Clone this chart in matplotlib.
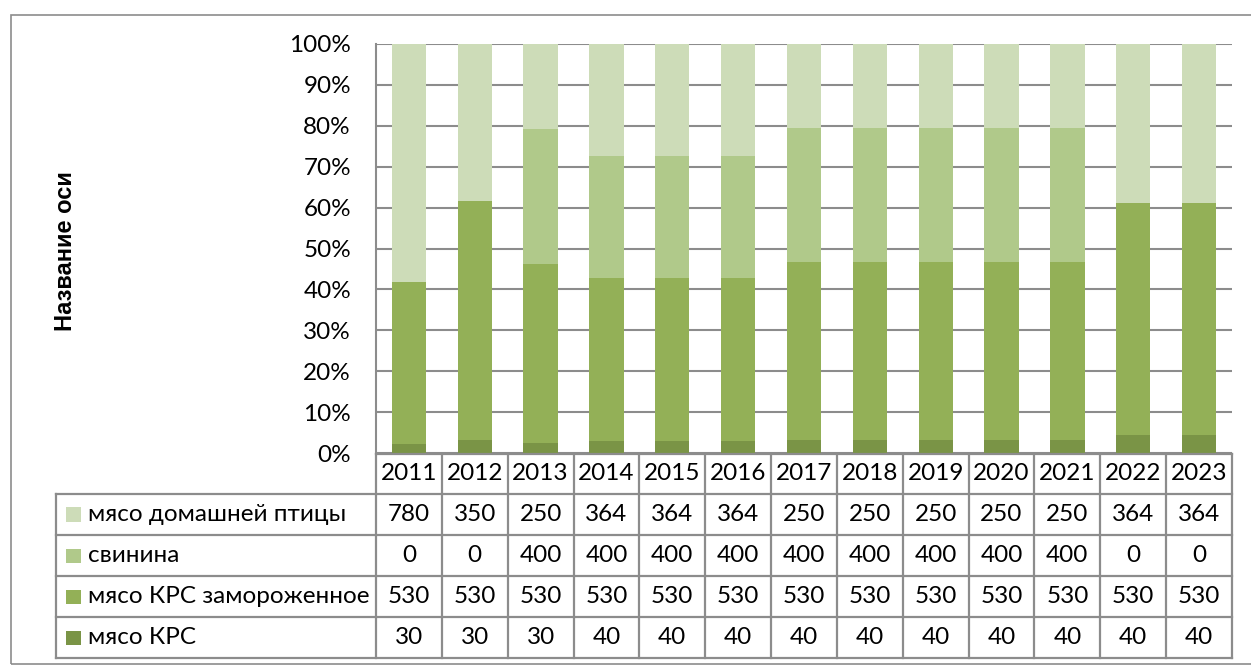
import matplotlib.pyplot as plt
import numpy as np

years = ['2011', '2012', '2013', '2014', '2015', '2016', '2017',
         '2018', '2019', '2020', '2021', '2022', '2023']
krs = [30, 30, 30, 40, 40, 40, 40, 40, 40, 40, 40, 40, 40]
krs_frozen = [530, 530, 530, 530, 530, 530, 530, 530, 530, 530, 530, 530, 530]
pork = [0, 0, 400, 400, 400, 400, 400, 400, 400, 400, 400, 0, 0]
poultry = [780, 350, 250, 364, 364, 364, 250, 250, 250, 250, 250, 364, 364]

series_names = ['мясо КРС', 'мясо КРС замороженное', 'свинина', 'мясо домашней птицы']
series_vals = [krs, krs_frozen, pork, poultry]
colors = ['#7A9446', '#93B057', '#B0C98A', '#CDDCB8']

W, H = 1251, 666
FONT = 'Lato'
FS = 17.5
GRID = '#8C8C8C'

fig = plt.figure(figsize=(W / 100, H / 100), dpi=100)

def fx(px):
    return px / W

def fy(py):
    return 1 - py / H

# рамка диаграммы
fig.patches.append(plt.Rectangle((fx(11), fy(664)), fx(1251 - 11 + 5), fy(15) - fy(664),
                                 transform=fig.transFigure, fill=False,
                                 edgecolor='#8C8C8C', linewidth=1.2))

x0, x1 = 376, 1232
y_top, y_bot = 44, 453
ax = fig.add_axes([fx(x0), fy(y_bot), fx(x1) - fx(x0), fy(y_top) - fy(y_bot)])

data = np.array(series_vals, dtype=float)
totals = data.sum(axis=0)
shares = data / totals * 100
x = np.arange(len(years))
bottom = np.zeros(len(years))
for vals, col in zip(shares, colors):
    ax.bar(x, vals, bottom=bottom, width=0.52, color=col, zorder=2)
    bottom += vals

ax.set_xlim(-0.5, len(years) - 0.5)
ax.set_ylim(0, 100)
ax.set_yticks(np.arange(0, 101, 10))
ax.set_yticklabels([f'{v}%' for v in range(0, 101, 10)], fontsize=FS, family=FONT)
ax.set_xticks([])
ax.yaxis.grid(True, color=GRID, linewidth=1.5, zorder=0)
ax.tick_params(axis='y', length=0, pad=18)
for s in ['top', 'right', 'bottom']:
    ax.spines[s].set_visible(False)
ax.spines['left'].set_color(GRID)
ax.spines['left'].set_linewidth(1.5)

fig.text(fx(65), fy(251), 'Название оси', rotation=90, ha='center', va='center',
         fontsize=17, fontweight='bold', family='Liberation Sans')

# таблица данных
row_top = [454, 494, 535, 576, 617]
row_bot = 658
col_w = (x1 - x0) / len(years)
lab_x0 = 56
lw = 1.6

def hline(y, xa, xb):
    fig.add_artist(plt.Line2D([fx(xa), fx(xb)], [fy(y), fy(y)], color=GRID, linewidth=lw))

def vline(xp, ya, yb):
    fig.add_artist(plt.Line2D([fx(xp), fx(xp)], [fy(ya), fy(yb)], color=GRID, linewidth=lw))

hline(row_top[0], x0, x1)
for y in row_top[1:] + [row_bot]:
    hline(y, lab_x0, x1)
vline(lab_x0, row_top[1], row_bot)
for i in range(len(years) + 1):
    vline(x0 + i * col_w, row_top[0], row_bot)

edges = row_top + [row_bot]
for i, yr in enumerate(years):
    cx = x0 + (i + 0.5) * col_w
    fig.text(fx(cx), fy((edges[0] + edges[1]) / 2), yr, ha='center', va='center',
             fontsize=FS, family=FONT)

table_order = [3, 2, 1, 0]
for r, si in enumerate(table_order):
    yc = (edges[r + 1] + edges[r + 2]) / 2
    fig.patches.append(plt.Rectangle((fx(66), fy(yc + 7)), fx(15), fy(yc - 7) - fy(yc + 7),
                                     transform=fig.transFigure, facecolor=colors[si],
                                     edgecolor='none'))
    fig.text(fx(88), fy(yc), series_names[si], ha='left', va='center',
             fontsize=FS, family=FONT)
    for i, v in enumerate(series_vals[si]):
        cx = x0 + (i + 0.5) * col_w
        fig.text(fx(cx), fy(yc), str(v), ha='center', va='center',
                 fontsize=FS, family=FONT)

fig.savefig('out.png', dpi=100)
